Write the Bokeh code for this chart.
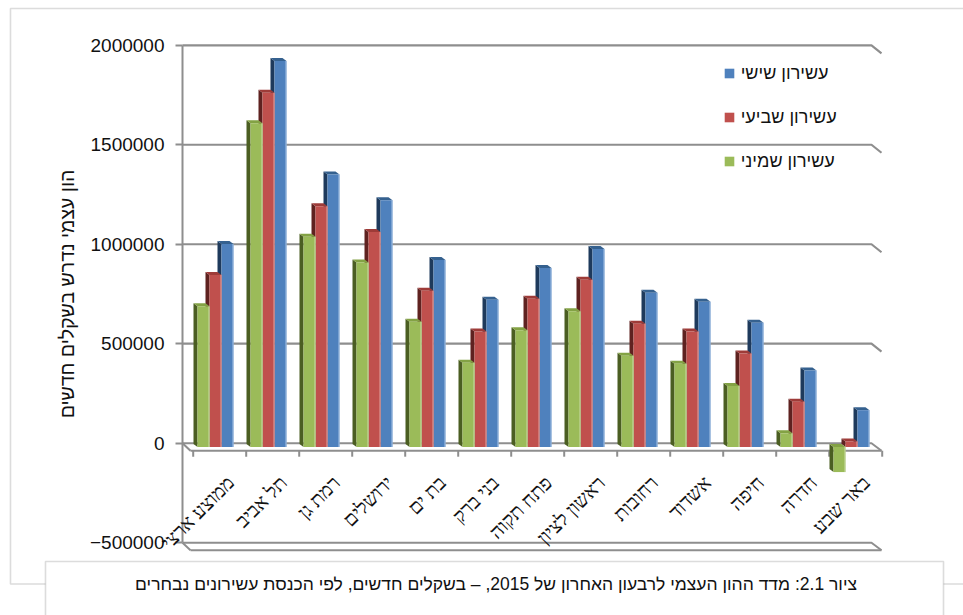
import math
from bokeh.plotting import figure
from bokeh.models import (Range1d, FixedTicker, BasicTickFormatter, ColumnDataSource,
                          LabelSet, Label, Legend, LegendItem, PolyAnnotation, LinearAxis)
from bokeh.embed import file_html
from bokeh.resources import INLINE

# ---- data -------------------------------------------------------------
cities = ["ממוצע ארצי", "תל אביב", "רמת גן", "ירושלים", "בת ים", "בני ברק",
          "פתח תקוה", "ראשון לציון", "רחובות", "אשדוד", "חיפה", "חדרה", "באר שבע"]
decile_6 = [1020000, 1940000, 1370000, 1240000, 940000, 740000, 900000,
            995000, 775000, 730000, 625000, 385000, 185000]
decile_7 = [865000, 1780000, 1210000, 1080000, 785000, 580000, 745000,
            840000, 620000, 580000, 470000, 228000, 28000]
decile_8 = [707000, 1627000, 1057000, 927000, 629000, 424000, 587000,
            682000, 459000, 419000, 307000, 69000, -126000]
series_names = ["עשירון שישי", "עשירון שביעי", "עשירון שמיני"]
y_ticks = [-500000, 0, 500000, 1000000, 1500000, 2000000]
y_title = "הון עצמי נדרש בשקלים חדשים"
caption = "ציור 2.1: מדד ההון העצמי לרבעון האחרון של 2015, – בשקלים חדשים, לפי הכנסת עשירונים נבחרים"

# ---- geometry ---------------------------------------------------------
W, H = 963, 615
WALL_LEFT = 182           # back-wall left edge (px)
CAT_PX = 53.0             # category width (px)
ZERO_PX = 442.7           # back-wall zero line (px from top)
PX_PER_UNIT = 497.4 / 2.5e6
FONT = "Liberation Sans"


def xd(px):
    return (px - WALL_LEFT) / CAT_PX


def yd(py):
    return (ZERO_PX - py) / PX_PER_UNIT


def wx(px):
    return px / CAT_PX


def hy(px):
    return px / PX_PER_UNIT


n = len(cities)
y_min, y_max = y_ticks[0], y_ticks[-1]

p = figure(width=W, height=H, x_range=Range1d(xd(0), xd(W)),
           y_range=Range1d(yd(H), yd(0)), output_backend="svg",
           toolbar_location=None, x_axis_location=None, y_axis_location=None,
           min_border=0)
p.xgrid.visible = False
p.ygrid.visible = False
p.outline_line_color = None
p.background_fill_color = "white"
p.border_fill_color = "white"

# ---- outer chart border and caption box ---------------------------------
p.add_layout(PolyAnnotation(xs=[xd(10), xd(975), xd(975), xd(10)],
                            ys=[yd(8), yd(8), yd(583.5), yd(583.5)],
                            fill_alpha=0, line_color="#8a8a8a", line_width=1.6))
p.add_layout(PolyAnnotation(xs=[xd(45), xd(943), xd(943), xd(45)],
                            ys=[yd(561), yd(561), yd(625), yd(625)],
                            fill_color="white", fill_alpha=1,
                            line_color="#8a8a8a", line_width=1.6))
p.add_layout(Label(x=xd(495.5), y=yd(583), text=caption, text_align="center",
                   text_baseline="middle", text_font=FONT, text_font_size="17.5px",
                   text_color="#111111"))

# ---- walls, floor and gridlines ------------------------------------------
GRID = "#8e8e8e"
DEPTH_X, DEPTH_Y = 10, 7.5
right = n
grid_xs, grid_ys = [], []
for v in y_ticks:
    if v in (0, y_min):
        continue
    grid_xs.append([0, right, right + wx(DEPTH_X)])
    grid_ys.append([v, v, v - hy(8)])
p.multi_line(grid_xs, grid_ys, line_color=GRID, line_width=2.2)

# floor slabs at the zero line and at the bottom of the scale
for v in (0, y_min):
    front = v - hy(DEPTH_Y)
    p.multi_line([[0, right, right + wx(DEPTH_X)],
                  [0, wx(DEPTH_X * 0.8)],
                  [wx(DEPTH_X * 0.8), right + wx(DEPTH_X)]],
                 [[v, v, front], [v, front], [front, front]],
                 line_color=GRID, line_width=2.0)

# category ticks on the front edge of the floor
tick_x = [k + wx(10.7) for k in range(n + 1)]
p.segment(x0=tick_x, x1=tick_x, y0=[-hy(DEPTH_Y)] * (n + 1),
          y1=[-hy(DEPTH_Y + 6)] * (n + 1), line_color=GRID, line_width=2)

# ---- 3-D bars -------------------------------------------------------------
BAR_PX = 12.0
SHIFT_X, SHIFT_Y = 6.5, 3.8      # bar plane in front of the back wall
SIDE_X, SIDE_Y = 4.0, 3.0        # visible depth of each bar

styles = [  # front, side, top, edge highlight
    ("#9bbb59", "#4b5e22", "#83a244", "#c9dba6"),
    ("#c0504d", "#5f2220", "#9e3b38", "#e0a3a1"),
    ("#4f81bd", "#1e3a5c", "#35618f", "#a9c3e4"),
]
series = [decile_8, decile_7, decile_6]

front_renderers = {}
for j in (2, 1, 0):
    vals = series[j]
    front_c, side_c, top_c, edge_c = styles[j]
    lefts, rights, tops, bottoms = [], [], [], []
    side_xs, side_ys, top_xs, top_ys = [], [], [], []
    for i, v in enumerate(vals):
        centre = i + 0.5 + wx(SHIFT_X)
        l = centre + (j - 1.5) * wx(BAR_PX)
        r = l + wx(BAR_PX)
        base = -hy(SHIFT_Y)
        tip = v - hy(SHIFT_Y)
        hi, lo = max(base, tip), min(base, tip)
        lefts.append(l); rights.append(r); tops.append(hi); bottoms.append(lo)
        side_xs.append([l, l, l - wx(SIDE_X), l - wx(SIDE_X)])
        side_ys.append([lo, hi, hi + hy(SIDE_Y), lo + hy(SIDE_Y)])
        top_xs.append([l, r, r - wx(SIDE_X), l - wx(SIDE_X)])
        top_ys.append([hi, hi, hi + hy(SIDE_Y), hi + hy(SIDE_Y)])
    p.patches(side_xs, side_ys, fill_color=side_c, line_color=None)
    p.patches(top_xs, top_ys, fill_color=top_c, line_color=None)
    front_renderers[j] = p.quad(left=lefts, right=rights, top=tops, bottom=bottoms,
                                fill_color=front_c, line_color=None)
    edge_x = [r - wx(0.5) for r in rights]
    p.segment(x0=edge_x, x1=edge_x, y0=bottoms, y1=tops, line_color=edge_c,
              line_width=1)

# ---- category labels --------------------------------------------------------
lab_src = ColumnDataSource(dict(
    x=[i + 0.5 + wx(13.7) for i in range(n)],
    y=[yd(471)] * n,
    t=cities,
))
p.add_layout(LabelSet(x="x", y="y", text="t", source=lab_src, angle=math.pi / 4,
                      text_align="right", text_baseline="top", text_font=FONT,
                      text_font_size="20px", text_color="#111111"))

# ---- value axis on the back wall ------------------------------------------------
ax = LinearAxis(fixed_location=0)
ax.ticker = FixedTicker(ticks=y_ticks)
ax.formatter = BasicTickFormatter(use_scientific=False)
ax.bounds = (y_min, y_max)
ax.axis_line_color = GRID
ax.axis_line_width = 2
ax.major_tick_line_color = GRID
ax.major_tick_line_width = 2
ax.major_tick_out = 7
ax.major_tick_in = 0
ax.minor_tick_line_color = None
ax.major_label_standoff = 11
ax.major_label_text_font = FONT
ax.major_label_text_font_size = "19px"
ax.major_label_text_color = "#111111"
ax.axis_label = y_title
ax.axis_label_text_font = FONT
ax.axis_label_text_font_size = "19.5px"
ax.axis_label_text_font_style = "normal"
ax.axis_label_text_color = "#111111"
ax.axis_label_standoff = 9
p.add_layout(ax, "left")

# ---- legend ---------------------------------------------------------------------
legend = Legend(items=[LegendItem(label=series_names[k], renderers=[front_renderers[2 - k]])
                       for k in range(3)],
                location=(722.7, 615 - 172), orientation="vertical",
                glyph_width=12, glyph_height=12, label_standoff=6,
                label_height=22, spacing=22, padding=0, margin=0,
                border_line_color=None, background_fill_alpha=0,
                label_text_font=FONT, label_text_font_size="18px",
                label_text_color="#111111")
p.add_layout(legend)

open("out.html", "w").write(file_html(p, INLINE))
